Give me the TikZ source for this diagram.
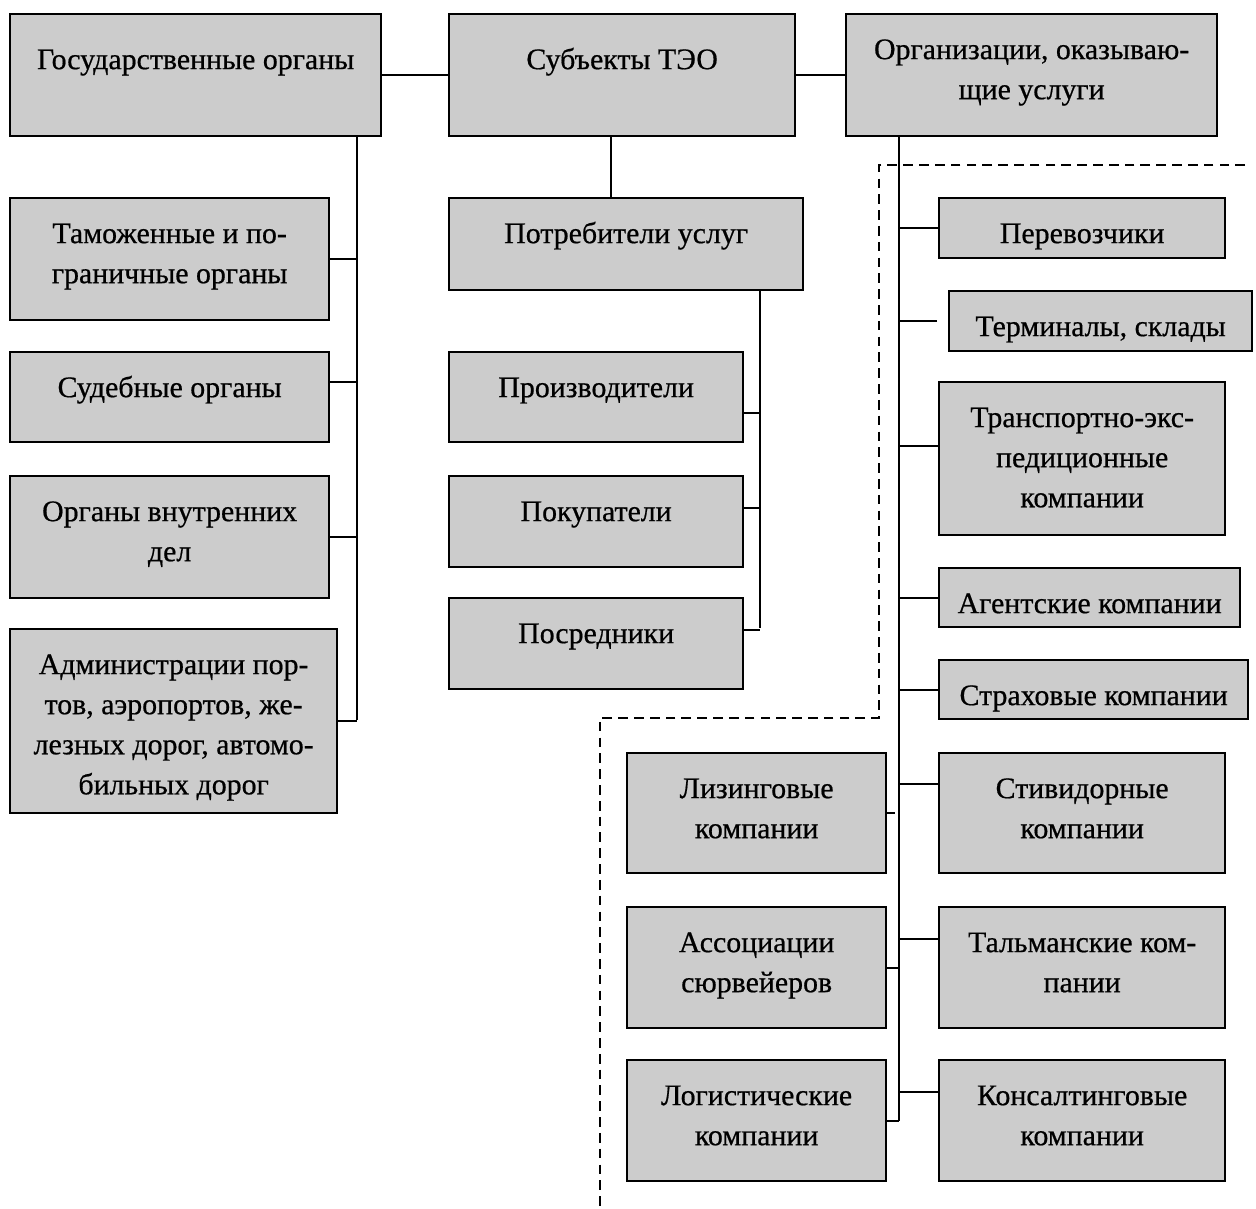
\documentclass[tikz,border=0pt]{standalone}
\usepackage{fontspec}
\setmainfont[FakeBold=0.6]{Liberation Serif}
\usetikzlibrary{calc}
\newlength\pxu
\setlength\pxu{0.02cm}
\definecolor{boxgray}{RGB}{204,204,204}
\newcommand\cell[4][25.6pt]{\parbox[c][#3\pxu][t]{#2\pxu}{\centering\fontsize{17}{22.8}\selectfont\rule{0pt}{#1}#4}}

\begin{document}
\begin{tikzpicture}[x=0.02cm,y=-0.02cm,
    box/.style={draw,fill=boxgray,line width=1.3pt,inner sep=0pt,anchor=north west},
    link/.style={line width=1.1pt},
    frame/.style={line width=0.9pt,dash pattern=on 5.5pt off 3.5pt}]
    \useasboundingbox (0,0) rectangle (1256,1208);
    % top row
    \node[box] (gov) at (9,13) {\cell[31.3pt]{371}{122}{Государственные органы}};
    \node[box] (subj) at (448,13) {\cell[31.3pt]{346}{122}{Субъекты ТЭО}};
    \node[box] (orgs) at (845,13) {\cell{371}{122}{Организации, оказываю-\\щие услуги}};
    % state bodies
    \node[box] (customs) at (9,197) {\cell{319}{122}{Таможенные и по-\\граничные органы}};
    \node[box] (court) at (9,351) {\cell{319}{90}{Судебные органы}};
    \node[box] (police) at (9,475) {\cell{319}{122}{Органы внутренних\\дел}};
    \node[box] (admin) at (9,628) {\cell{327}{184}{Администрации пор-\\тов, аэропортов, же-\\лезных дорог, автомо-\\бильных дорог}};
    % consumers
    \node[box] (users) at (448,197) {\cell{354}{92}{Потребители услуг}};
    \node[box] (prod) at (448,351) {\cell{294}{90}{Производители}};
    \node[box] (buy) at (448,475) {\cell{294}{91}{Покупатели}};
    \node[box] (mid) at (448,597) {\cell{294}{91}{Посредники}};
    % service providers
    \node[box] (carr) at (938,197) {\cell{286}{60}{Перевозчики}};
    \node[box] (term) at (948,290) {\cell{303}{60}{Терминалы, склады}};
    \node[box] (forw) at (938,381) {\cell{286}{153}{Транспортно-экс-\\педиционные\\компании}};
    \node[box] (agent) at (938,567) {\cell{301}{59}{Агентские компании}};
    \node[box] (insur) at (938,659) {\cell{309}{59}{Страховые компании}};
    \node[box] (stev) at (938,752) {\cell{286}{120}{Стивидорные\\компании}};
    \node[box] (tally) at (938,906) {\cell{286}{121}{Тальманские ком-\\пании}};
    \node[box] (consult) at (938,1059) {\cell{286}{121}{Консалтинговые\\компании}};
    \node[box] (leas) at (626,752) {\cell{259}{120}{Лизинговые\\компании}};
    \node[box] (surv) at (626,906) {\cell{259}{121}{Ассоциации\\сюрвейеров}};
    \node[box] (logi) at (626,1059) {\cell{259}{121}{Логистические\\компании}};
    % trunks
    \coordinate (lt) at (357,720);
    \coordinate (mt) at (760,628);
    \coordinate (rt) at (899,1121);
    \draw[link] (gov.east) -- (subj.west);
    \draw[link] (subj.east) -- (orgs.west);
    \draw[link] ([xshift=-11\pxu]subj.south) -- ([xshift=-11\pxu]subj.south |- users.north);
    \draw[link] (gov.south -| lt) -- (lt);
    \foreach \n/\s in {customs/0,court/15,police/0,admin/0}
      \draw[link] ([yshift=\s\pxu]\n.east) -- ([yshift=\s\pxu]\n.east -| lt);
    \draw[link] (users.south -| mt) -- (mt);
    \foreach \n/\s in {prod/-16,buy/14,mid/14}
      \draw[link] ([yshift=\s\pxu]\n.east) -- ([yshift=\s\pxu]\n.east -| mt);
    \draw[link] (orgs.south -| rt) -- (rt);
    \foreach \n/\s in {carr/0,forw/13,agent/0,insur/0,stev/29,tally/29,consult/29}
      \draw[link] ([yshift=\s\pxu]\n.west) -- ([yshift=\s\pxu]\n.west -| rt);
    \draw[link] ([xshift=-11\pxu]term.west) -- (term.west -| rt);
    \foreach \n in {surv,logi}
      \draw[link] (\n.east) -- (\n.east -| rt);
    \draw[link] (leas.east) -- ++(8,0);
    % outline of the service group
    \draw[frame] (1245,165) -- (879,165) -- (879,718) -- (600,718) -- (600,1208);
\end{tikzpicture}
\end{document}
